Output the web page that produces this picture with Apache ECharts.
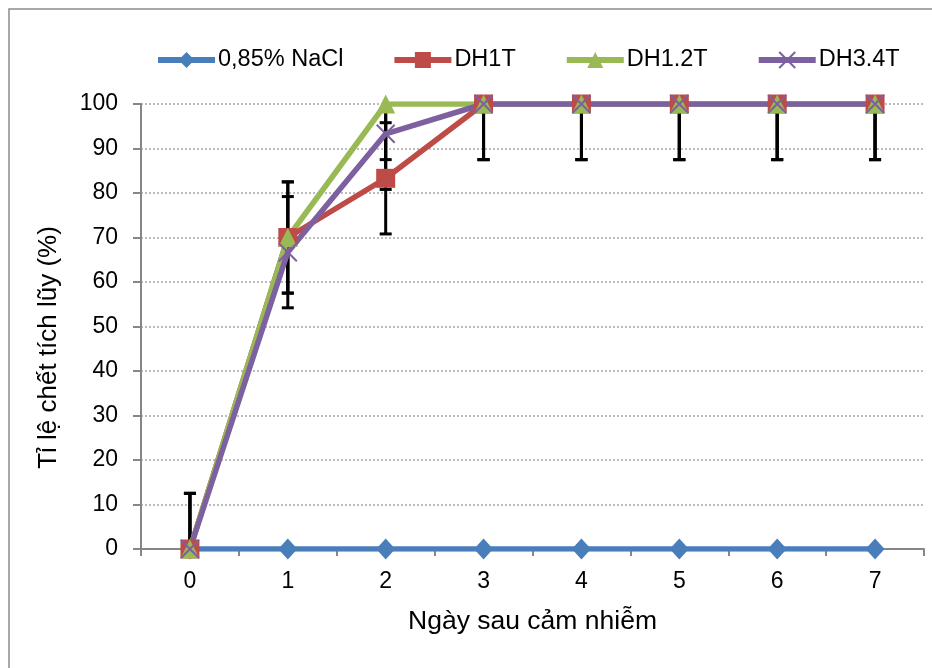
<!DOCTYPE html>
<html>
<head>
<meta charset="utf-8">
<script src="https://cdn.jsdelivr.net/npm/echarts@6/dist/echarts.min.js"></script>
<style>
  html, body { margin: 0; padding: 0; background: #fff; }
  #chart { width: 932px; height: 668px; }
</style>
</head>
<body>
<div id="chart"></div>
<script>
// số liệu
var days = ['0', '1', '2', '3', '4', '5', '6', '7'];
var nacl = [0, 0, 0, 0, 0, 0, 0, 0];
var dh1t = [0, 70, 83.3, 100, 100, 100, 100, 100];
var dh12t = [0, 70, 100, 100, 100, 100, 100, 100];
var dh34t = [0, 66.7, 93.3, 100, 100, 100, 100, 100];
var dh1tErr = [12.5, 12.5, 12.5, 12.5, 12.5, 12.5, 12.5, 12.5];
var dh12tErr = [12.5, 12.5, 12.5, 12.5, 12.5, 12.5, 12.5, 12.5];
var dh34tErr = [12.5, 12.5, 12.5, 12.5, 12.5, 12.5, 12.5, 12.5];

var font = '"Liberation Sans", Arial, sans-serif';
var axisGray = '#868686';

function errData(vals, errs) {
  return vals.map(function (v, i) { return [i, v, errs[i]]; });
}

function renderErr(params, api) {
  var x = api.value(0), v = api.value(1), e = api.value(2);
  var lo = api.coord([x, v - e]);
  var hi = api.coord([x, v + e]);
  var half = 6;
  var st = { stroke: '#000', lineWidth: 3 };
  return {
    type: 'group',
    children: [
      { type: 'line', shape: { x1: lo[0], y1: lo[1], x2: hi[0], y2: hi[1] }, style: st },
      { type: 'line', shape: { x1: lo[0] - half, y1: lo[1], x2: lo[0] + half, y2: lo[1] }, style: st },
      { type: 'line', shape: { x1: hi[0] - half, y1: hi[1], x2: hi[0] + half, y2: hi[1] }, style: st }
    ]
  };
}

function errSeries(vals, errs) {
  return {
    type: 'custom',
    renderItem: renderErr,
    data: errData(vals, errs),
    clip: true,
    z: 1,
    silent: true
  };
}

function lineSeries(name, vals, color, symbol, size, extra) {
  var s = {
    name: name,
    type: 'line',
    data: vals,
    symbol: symbol,
    symbolSize: size,
    showAllSymbol: true,
    z: 2,
    lineStyle: { color: color, width: 5.5 },
    itemStyle: { color: color }
  };
  if (extra) { s.itemStyle = extra; }
  return s;
}

var chart = echarts.init(document.getElementById('chart'));
chart.setOption({
  animation: false,
  backgroundColor: '#fff',
  textStyle: { fontFamily: font },
  graphic: [{
    type: 'rect',
    shape: { x: 9, y: 9, width: 1000, height: 1000 },
    style: { fill: 'none', stroke: '#8c8c8c', lineWidth: 1.5 },
    z: -1
  }],
  legend: {
    data: ['0,85% NaCl', 'DH1T', 'DH1.2T', 'DH3.4T'],
    left: 150,
    top: 43,
    itemWidth: 57,
    itemHeight: 20,
    itemGap: 48,
    lineStyle: { width: 6 },
    textStyle: { fontSize: 23.5, color: '#000', fontFamily: font, padding: [0, 0, 0, -2] }
  },
  grid: { left: 141, right: 8, top: 104, bottom: 119 },
  xAxis: {
    type: 'category',
    data: days,
    boundaryGap: true,
    name: 'Ngày sau cảm nhiễm',
    nameLocation: 'middle',
    nameGap: 59,
    nameTextStyle: { fontSize: 26.5, color: '#000', fontFamily: font },
    axisLine: { lineStyle: { color: axisGray, width: 2 } },
    axisTick: { show: true, length: 7, lineStyle: { color: axisGray, width: 2 } },
    axisLabel: { fontSize: 23, color: '#000', margin: 21, fontFamily: font },
    splitLine: { show: false }
  },
  yAxis: {
    type: 'value',
    min: 0,
    max: 100,
    interval: 10,
    name: 'Tỉ lệ chết tích lũy (%)',
    nameLocation: 'middle',
    nameGap: 79,
    nameTextStyle: { fontSize: 26, color: '#000', fontFamily: font, padding: [0, 42, 0, 0] },
    axisLine: { show: true, lineStyle: { color: axisGray, width: 2 } },
    axisTick: { show: true, length: 8, lineStyle: { color: axisGray, width: 2 } },
    axisLabel: { fontSize: 23, color: '#000', margin: 23, fontFamily: font },
    splitLine: { show: true, lineStyle: { color: '#a6a6a6', type: [2, 2], width: 1.5 } }
  },
  series: [
    errSeries(dh1t, dh1tErr),
    errSeries(dh12t, dh12tErr),
    errSeries(dh34t, dh34tErr),
    lineSeries('0,85% NaCl', nacl, '#4A7EBB', 'diamond', [19, 21]),
    lineSeries('DH1T', dh1t, '#BE4B48', 'rect', 19),
    lineSeries('DH1.2T', dh12t, '#98B954', 'triangle', 19),
    lineSeries('DH3.4T', dh34t, '#7D60A0', 'path://M0,0 L10,10 M10,0 L0,10', 18,
      { color: '#7D60A0', borderColor: '#7D60A0', borderWidth: 2 })
  ]
});
</script>
</body>
</html>
